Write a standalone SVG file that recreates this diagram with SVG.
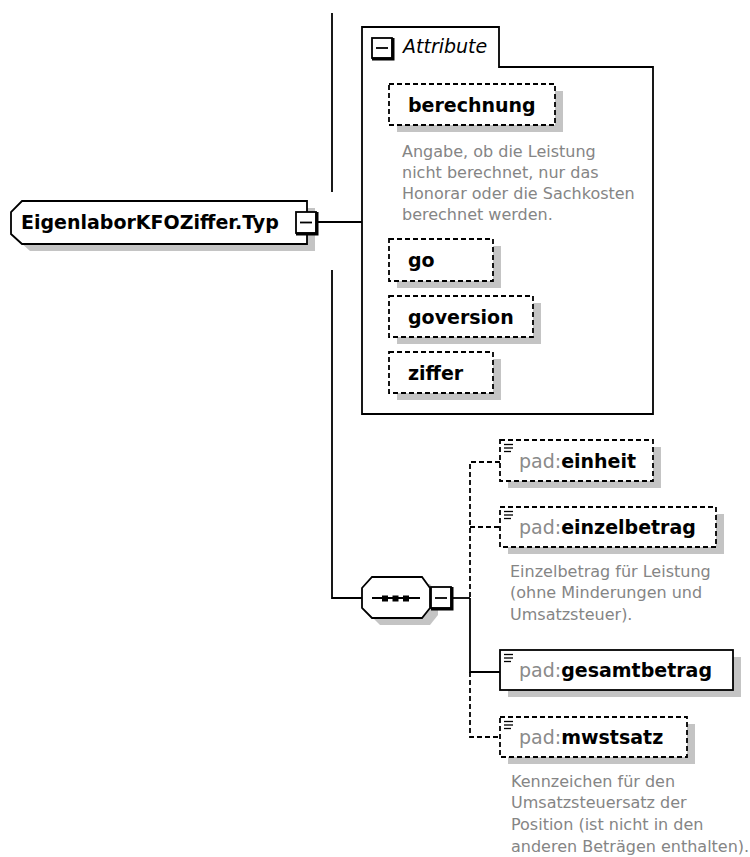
<svg xmlns="http://www.w3.org/2000/svg" width="750" height="857" viewBox="0 0 750 857">
  <defs>
    <style>
      .bg { fill: #ffffff; }
      .shadow { fill: #c4c4c4; stroke: none; }
      .box { fill: #ffffff; stroke: #000000; stroke-width: 1.8; }
      .opt { fill: #ffffff; stroke: #000000; stroke-width: 1.8; stroke-dasharray: 5 3; }
      .line { fill: none; stroke: #000000; stroke-width: 1.8; }
      .dline { fill: none; stroke: #000000; stroke-width: 1.8; stroke-dasharray: 5 3; }
      .thick { fill: none; stroke: #000000; stroke-width: 3; }
      .name { font-family: "DejaVu Sans", Verdana, sans-serif; font-weight: bold; font-size: 19px; fill: #000000; }
      .prefix { font-weight: normal; fill: #8a8a8a; }
      .title { font-family: "DejaVu Sans", Verdana, sans-serif; font-style: italic; font-size: 19px; fill: #000000; }
      .doc { font-family: "DejaVu Sans", Verdana, sans-serif; font-size: 16px; fill: #858585; }
      .icon { stroke: #000000; stroke-width: 1.3; }
    </style>
  </defs>

  <rect class="bg" x="0" y="0" width="750" height="857"/>

  <!-- connectors -->
  <g id="connectors">
    <line class="line" x1="332" y1="13" x2="332" y2="192"/>
    <line class="line" x1="317" y1="222" x2="362" y2="222"/>
    <polyline class="line" points="332,270 332,598 362,598"/>
    <line class="line" x1="453" y1="598" x2="470" y2="598"/>
    <polyline class="dline" points="500,462 470,462 470,598"/>
    <line class="dline" x1="470" y1="527" x2="500" y2="527"/>
    <polyline class="line" points="470,598 470,672 500,672"/>
    <polyline class="dline" points="470,672 470,737 500,737"/>
  </g>

  <!-- root complex type -->
  <g id="root">
    <path class="shadow" d="M30,208 H315 V251 H30 L19,241 V219 Z"/>
    <path class="box" d="M22,201 H307 V244 H22 L11,234 V212 Z"/>
    <text class="name" x="21" y="229">EigenlaborKFOZiffer.Typ</text>
    <rect class="box" x="296" y="212" width="20" height="21"/>
    <polyline class="thick" points="296,234 317,234 317,212"/>
    <line class="line" x1="300" y1="222.5" x2="312" y2="222.5"/>
  </g>

  <!-- attribute group -->
  <g id="attributes">
    <path class="line" d="M362,27 H499 V67 H653 V414 H362 Z"/>
    <rect class="box" x="372" y="38" width="20" height="20"/>
    <polyline class="thick" points="372,59 393,59 393,38"/>
    <line class="line" x1="376" y1="48" x2="388" y2="48"/>
    <text class="title" x="403" y="53">Attribute</text>
  </g>

  <g id="attr-berechnung">
    <rect class="shadow" x="397" y="91" width="166" height="41"/>
    <rect class="opt" x="389" y="84" width="166" height="41"/>
    <text class="name" x="408" y="112">berechnung</text>
    <text class="doc" x="402" y="157">Angabe, ob die Leistung</text>
    <text class="doc" x="402" y="178">nicht berechnet, nur das</text>
    <text class="doc" x="402" y="199">Honorar oder die Sachkosten</text>
    <text class="doc" x="402" y="220">berechnet werden.</text>
  </g>

  <g id="attr-go">
    <rect class="shadow" x="397" y="246" width="104" height="42"/>
    <rect class="opt" x="389" y="239" width="104" height="42"/>
    <text class="name" x="408" y="267">go</text>
  </g>

  <g id="attr-goversion">
    <rect class="shadow" x="397" y="303" width="144" height="41"/>
    <rect class="opt" x="389" y="296" width="144" height="41"/>
    <text class="name" x="408" y="324">goversion</text>
  </g>

  <g id="attr-ziffer">
    <rect class="shadow" x="397" y="359" width="104" height="41"/>
    <rect class="opt" x="389" y="352" width="104" height="41"/>
    <text class="name" x="408" y="380">ziffer</text>
  </g>

  <!-- sequence compositor -->
  <g id="sequence">
    <path class="shadow" d="M380,584 H430 L438,595 V615 L430,625 H380 L370,615 V595 Z"/>
    <path class="box" d="M372,577 H422 L430,588 V608 L422,618 H372 L362,608 V588 Z"/>
    <line class="line" x1="372" y1="598" x2="420" y2="598"/>
    <rect x="382" y="595.5" width="6" height="6" fill="#000000"/>
    <rect x="392.5" y="595.5" width="6" height="6" fill="#000000"/>
    <rect x="403" y="595.5" width="6" height="6" fill="#000000"/>
    <rect class="box" x="431" y="587" width="20" height="21"/>
    <polyline class="thick" points="431,609 452,609 452,587"/>
    <line class="line" x1="435" y1="598" x2="447" y2="598"/>
  </g>

  <!-- child elements -->
  <g id="el-einheit">
    <rect class="shadow" x="508" y="447" width="153" height="41"/>
    <rect class="opt" x="500" y="440" width="153" height="41"/>
    <line class="icon" x1="504" y1="444.5" x2="513" y2="444.5"/>
    <line class="icon" x1="504" y1="448" x2="513" y2="448"/>
    <line class="icon" x1="504" y1="451.5" x2="511" y2="451.5"/>
    <text class="name" x="519" y="468"><tspan class="prefix">pad:</tspan>einheit</text>
  </g>

  <g id="el-einzelbetrag">
    <rect class="shadow" x="508" y="514" width="216" height="40"/>
    <rect class="opt" x="500" y="507" width="216" height="40"/>
    <line class="icon" x1="504" y1="511.5" x2="513" y2="511.5"/>
    <line class="icon" x1="504" y1="515" x2="513" y2="515"/>
    <line class="icon" x1="504" y1="518.5" x2="511" y2="518.5"/>
    <text class="name" x="519" y="534"><tspan class="prefix">pad:</tspan>einzelbetrag</text>
    <text class="doc" x="510" y="577">Einzelbetrag für Leistung</text>
    <text class="doc" x="510" y="598">(ohne Minderungen und</text>
    <text class="doc" x="510" y="620">Umsatzsteuer).</text>
  </g>

  <g id="el-gesamtbetrag">
    <rect class="shadow" x="508" y="657" width="233" height="40"/>
    <rect class="box" x="500" y="650" width="233" height="40"/>
    <line class="icon" x1="504" y1="654.5" x2="513" y2="654.5"/>
    <line class="icon" x1="504" y1="658" x2="513" y2="658"/>
    <line class="icon" x1="504" y1="661.5" x2="511" y2="661.5"/>
    <text class="name" x="519" y="677"><tspan class="prefix">pad:</tspan>gesamtbetrag</text>
  </g>

  <g id="el-mwstsatz">
    <rect class="shadow" x="508" y="724" width="187" height="40"/>
    <rect class="opt" x="500" y="717" width="187" height="40"/>
    <line class="icon" x1="504" y1="721.5" x2="513" y2="721.5"/>
    <line class="icon" x1="504" y1="725" x2="513" y2="725"/>
    <line class="icon" x1="504" y1="728.5" x2="511" y2="728.5"/>
    <text class="name" x="519" y="744"><tspan class="prefix">pad:</tspan>mwstsatz</text>
    <text class="doc" x="511" y="787">Kennzeichen für den</text>
    <text class="doc" x="511" y="808">Umsatzsteuersatz der</text>
    <text class="doc" x="511" y="830">Position (ist nicht in den</text>
    <text class="doc" x="511" y="852">anderen Beträgen enthalten).</text>
  </g>
</svg>
